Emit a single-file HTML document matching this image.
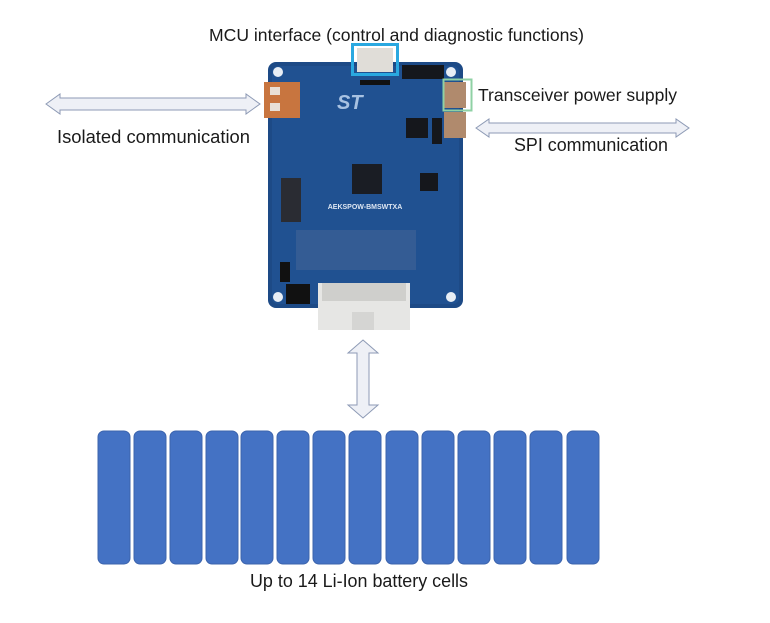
<!DOCTYPE html>
<html><head><meta charset="utf-8"><style>
html,body{margin:0;padding:0;background:#fff;}
svg{display:block;font-family:"Liberation Sans",sans-serif;}
</style></head><body>
<svg width="770" height="623" viewBox="0 0 770 623" xmlns="http://www.w3.org/2000/svg">
<rect width="770" height="623" fill="#fff"/>
<polygon points="46,104 60,94 60,98 246,98 246,94 260,104 246,114 246,110 60,110 60,114" fill="#eef0f6" stroke="#8d9ab5" stroke-width="1"/>
<polygon points="476,128 489,119 489,123 676,123 676,119 689,128 676,137 676,133 489,133 489,137" fill="#eef0f6" stroke="#8d9ab5" stroke-width="1"/>
<polygon points="363,340 378,353 369,353 369,405 378,405 363,418 348,405 357,405 357,353 348,353" fill="#eef0f6" stroke="#8d9ab5" stroke-width="1"/>
<rect x="268" y="62" width="195" height="246" rx="8" fill="#1d4a86"/>
<rect x="272" y="66" width="187" height="238" rx="6" fill="#23579a" opacity="0.6"/>
<circle cx="278" cy="72" r="5" fill="#e8eef5"/><circle cx="451" cy="72" r="5" fill="#e8eef5"/>
<circle cx="278" cy="297" r="5" fill="#e8eef5"/><circle cx="451" cy="297" r="5" fill="#e8eef5"/>
<rect x="264" y="82" width="36" height="36" fill="#c8753f"/>
<rect x="270" y="87" width="10" height="8" fill="#e9e0d6"/><rect x="270" y="103" width="10" height="8" fill="#e9e0d6"/>
<rect x="360" y="80" width="30" height="5" fill="#111"/>
<rect x="402" y="65" width="42" height="14" fill="#15171c"/>
<text x="337" y="109" font-size="20" font-weight="bold" font-style="italic" fill="#a8c2e2">ST</text>
<rect x="352" y="164" width="30" height="30" fill="#1a1d24"/>
<rect x="406" y="118" width="22" height="20" fill="#15171c"/>
<rect x="420" y="173" width="18" height="18" fill="#15171c"/>
<rect x="432" y="118" width="10" height="26" fill="#15171c"/>
<rect x="281" y="178" width="20" height="44" fill="#2a2c33"/>
<rect x="296" y="230" width="120" height="40" fill="#3a5f95" opacity="0.8"/>
<rect x="280" y="262" width="10" height="20" fill="#111"/>
<rect x="286" y="284" width="24" height="20" fill="#111"/>
<text x="365" y="209" font-size="7" font-weight="bold" fill="#dde6f2" text-anchor="middle">AEKSPOW-BMSWTXA</text>
<rect x="444" y="82" width="22" height="26" fill="#b08a6d"/>
<rect x="444" y="112" width="22" height="26" fill="#b08a6d"/>
<rect x="318" y="283" width="92" height="47" fill="#e6e6e4"/>
<rect x="322" y="283" width="84" height="18" fill="#cfcfcc"/>
<rect x="352" y="312" width="22" height="18" fill="#d5d5d3"/>
<rect x="357" y="48" width="36" height="24" fill="#e0ddd8"/>
<rect x="352.5" y="44.5" width="45" height="30" fill="none" stroke="#2aa8e0" stroke-width="3"/>
<rect x="443.5" y="79.5" width="28" height="31" fill="none" stroke="#8fd1a4" stroke-width="2"/>
<g fill="#4472c4" stroke="#3c64ad" stroke-width="1">
<rect x="98" y="431" width="32" height="133" rx="6"/>
<rect x="134" y="431" width="32" height="133" rx="6"/>
<rect x="170" y="431" width="32" height="133" rx="6"/>
<rect x="206" y="431" width="32" height="133" rx="6"/>
<rect x="241" y="431" width="32" height="133" rx="6"/>
<rect x="277" y="431" width="32" height="133" rx="6"/>
<rect x="313" y="431" width="32" height="133" rx="6"/>
<rect x="349" y="431" width="32" height="133" rx="6"/>
<rect x="386" y="431" width="32" height="133" rx="6"/>
<rect x="422" y="431" width="32" height="133" rx="6"/>
<rect x="458" y="431" width="32" height="133" rx="6"/>
<rect x="494" y="431" width="32" height="133" rx="6"/>
<rect x="530" y="431" width="32" height="133" rx="6"/>
<rect x="567" y="431" width="32" height="133" rx="6"/>
</g>
<g fill="#1a1a1a">
<text x="209" y="41" font-size="17.5" textLength="375" lengthAdjust="spacingAndGlyphs">MCU interface (control and diagnostic functions)</text>
<text x="478" y="101" font-size="17.5" textLength="199" lengthAdjust="spacingAndGlyphs">Transceiver power supply</text>
<text x="57" y="143" font-size="18" textLength="193" lengthAdjust="spacingAndGlyphs">Isolated communication</text>
<text x="514" y="151" font-size="18" textLength="154" lengthAdjust="spacingAndGlyphs">SPI communication</text>
<text x="250" y="587" font-size="18" textLength="218" lengthAdjust="spacingAndGlyphs">Up to 14 Li-Ion battery cells</text>
</g>
</svg>
</body></html>
